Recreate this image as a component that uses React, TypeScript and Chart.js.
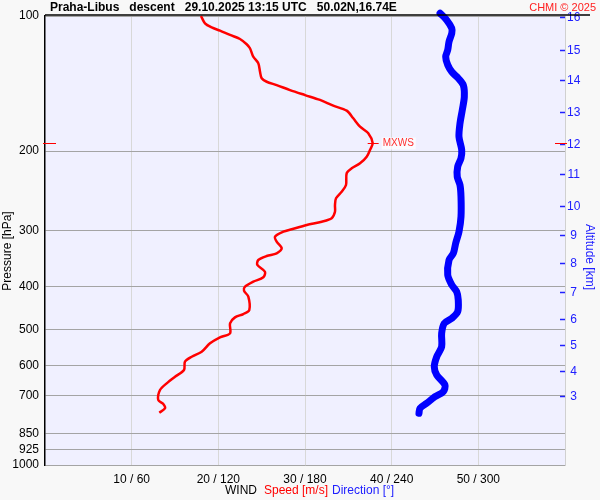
import React, { useEffect, useRef } from "react";
import { Chart, registerables } from "chart.js";

Chart.register(...registerables);

const FONT = "'Liberation Sans', Arial, sans-serif";

const pressureTicks = [100, 200, 300, 400, 500, 600, 700, 850, 925, 1000];
const speedTicks = [10, 20, 30, 40, 50];
const altitudeKm = [16, 15, 14, 13, 12, 11, 10, 9, 8, 7, 6, 5, 4, 3];
const altitudePressure = [101, 119.2, 139.1, 164.2, 193.5, 226, 265.9, 309, 356.7, 412.5, 473.8, 542.5, 618.6, 703];

const speedPressure = [
  100, 103.8, 106.0, 107.8, 110.2, 112.5, 115.6, 118.0, 123.2, 127.4, 133.1, 137.6, 140.1, 142.5, 146.2,
  150.0, 153.8, 158.4, 162.5, 169.0, 176.4, 182.5, 192.0, 198.8, 205.8, 212.9, 218.4, 224.0, 237.9, 246.2,
  254.7, 263.6, 272.9, 282.1, 287.2, 292.1, 298.6, 302.3, 310.1, 318.2, 329.2, 337.7, 342.4, 349.5, 358.5,
  371.1, 381.9, 390.6, 400.7, 409.0, 421.8, 451.7, 461.1, 469.0, 483.6, 509.1, 519.6, 535.8, 559.4, 573.9,
  588.8, 614.4, 635.9, 657.8, 680.8, 716.6, 731.4, 747.7, 764.8,
];
const speedValues = [
  18.0, 18.46, 19.23, 20.19, 21.35, 22.5, 23.27, 23.65, 24.03, 24.61, 24.81, 25.0, 25.58, 26.73, 28.27,
  30.0, 31.73, 33.26, 34.81, 35.57, 36.35, 37.3, 37.81, 37.5, 37.12, 36.35, 35.39, 34.81, 34.73, 34.23,
  33.58, 33.46, 33.46, 33.08, 31.93, 30.2, 28.46, 27.5, 26.54, 26.73, 27.31, 26.73, 25.58, 24.61, 24.5,
  25.38, 25.19, 24.03, 23.08, 22.96, 23.46, 23.57, 22.88, 21.92, 21.35, 21.35, 20.19, 19.04, 18.08, 16.93,
  16.15, 16.04, 15.0, 14.04, 13.27, 13.07, 13.65, 13.85, 13.19,
];

const dirPressure = [
  98.6, 102.1, 106.5, 109.3, 114.1, 119.1, 123.2, 128.5, 133.1, 137.6, 142.5, 151.3, 161.9, 173.4, 185.8,
  198.8, 207.4, 216.6, 228.0, 237.9, 252.6, 279.9, 302.3, 320.8, 337.7, 349.5, 377.4, 397.2, 411.2, 429.0,
  455.6, 471.4, 483.6, 509.1, 545.1, 573.9, 604.0, 630.2, 663.5, 686.8, 704.6, 728.8, 747.7, 767.2,
];
const dirValues = [
  273.5, 278.1, 281.6, 281.6, 279.7, 278.8, 277.4, 278.8, 281.6, 286.1, 289.6, 290.3, 288.9, 287.3, 286.6,
  288.5, 288.0, 285.7, 285.4, 287.3, 288.0, 288.0, 286.6, 284.3, 282.7, 279.7, 278.8, 281.6, 285.0, 286.1,
  285.7, 281.6, 276.4, 274.6, 274.6, 271.2, 269.5, 271.2, 276.9, 275.7, 270.0, 264.2, 259.6, 258.9,
];

const decorPlugin = {
  id: "decor",
  beforeDraw(chart: any) {
    const { ctx, chartArea } = chart;
    ctx.save();
    ctx.fillStyle = "#f8f8f8";
    ctx.fillRect(0, 0, chart.width, chart.height);
    ctx.fillStyle = "#f0f0ff";
    ctx.fillRect(chartArea.left, chartArea.top, chartArea.right - chartArea.left, chartArea.bottom - chartArea.top);
    ctx.restore();
  },
  afterDraw(chart: any) {
    const { ctx, chartArea, scales } = chart;
    ctx.save();
    // top line
    ctx.strokeStyle = "#000";
    ctx.lineWidth = 1.5;
    ctx.beginPath();
    ctx.moveTo(chartArea.left, 15);
    ctx.lineTo(590, 15);
    ctx.stroke();

    // titles
    ctx.textBaseline = "middle";
    ctx.textAlign = "left";
    ctx.fillStyle = "#000";
    ctx.font = `bold 12px ${FONT}`;
    ctx.fillText("Praha-Libus   descent   29.10.2025 13:15 UTC   50.02N,16.74E", 50, 8);
    ctx.font = `11px ${FONT}`;
    ctx.fillStyle = "#ff2020";
    ctx.textAlign = "right";
    ctx.fillText("CHMI \u00A9 2025", 596, 8);

    // axis titles
    ctx.font = `12px ${FONT}`;
    ctx.textAlign = "center";
    ctx.fillStyle = "#000";
    ctx.save();
    ctx.translate(8, 251);
    ctx.rotate(-Math.PI / 2);
    ctx.fillText("Pressure [hPa]", 0, 0);
    ctx.restore();
    ctx.save();
    ctx.fillStyle = "#2020ff";
    ctx.translate(589, 257);
    ctx.rotate(Math.PI / 2);
    ctx.fillText("Altitude [km]", 0, 0);
    ctx.restore();

    ctx.textAlign = "left";
    ctx.fillStyle = "#000";
    ctx.fillText("WIND", 225, 491);
    ctx.fillStyle = "#ff0000";
    ctx.fillText("Speed [m/s]", 264, 491);
    ctx.fillStyle = "#2020ff";
    ctx.fillText("Direction [\u00B0]", 332, 491);

    // MXWS marker
    let mi = 0;
    speedValues.forEach((v, i) => {
      if (v > speedValues[mi]) mi = i;
    });
    const my = Math.round(scales.y.getPixelForValue(speedPressure[mi])) + 0.5;
    const mx = scales.x.getPixelForValue(speedValues[mi]);
    ctx.strokeStyle = "#ff0000";
    ctx.lineWidth = 1;
    ctx.beginPath();
    ctx.moveTo(mx - 5, my);
    ctx.lineTo(mx + 6, my);
    ctx.moveTo(43, my);
    ctx.lineTo(56, my);
    ctx.moveTo(555, my);
    ctx.lineTo(567, my);
    ctx.stroke();
    ctx.font = `10px ${FONT}`;
    const tw = ctx.measureText("MXWS").width;
    ctx.fillStyle = "rgba(255,255,255,0.7)";
    ctx.fillRect(mx + 9, my - 6, tw + 3, 12);
    ctx.fillStyle = "#ff3030";
    ctx.fillText("MXWS", mx + 10, my);
    ctx.restore();
  },
};

export default function App() {
  const ref = useRef<HTMLCanvasElement | null>(null);
  useEffect(() => {
    if (!ref.current) return;
    const chart = new Chart(ref.current, {
      type: "scatter",
      data: {
        datasets: [
          {
            label: "Direction",
            data: dirPressure.map((p, i) => ({ x: dirValues[i], y: p })),
            xAxisID: "x2",
            yAxisID: "y",
            showLine: true,
            borderColor: "#0000ff",
            borderWidth: 7,
            borderCapStyle: "round",
            borderJoinStyle: "round",
            pointRadius: 0,
            tension: 0.3,
            clip: false,
          } as any,
          {
            label: "Speed",
            data: speedPressure.map((p, i) => ({ x: speedValues[i], y: p })),
            xAxisID: "x",
            yAxisID: "y",
            showLine: true,
            borderColor: "#ff0000",
            borderWidth: 2.5,
            borderJoinStyle: "round",
            pointRadius: 0,
            tension: 0.3,
            clip: false,
          } as any,
        ],
      },
      options: {
        animation: false,
        responsive: false,
        devicePixelRatio: 1,
        layout: { padding: { top: 16, left: 0, right: 0, bottom: 0 } },
        plugins: { legend: { display: false }, tooltip: { enabled: false }, title: { display: false } },
        scales: {
          x: {
            type: "linear",
            position: "bottom",
            min: 0,
            max: 60,
            afterBuildTicks: (s: any) => {
              s.ticks = speedTicks.map((v) => ({ value: v }));
            },
            afterFit: (s: any) => {
              s.height = 35;
            },
            grid: { color: "#d8d8d8", drawTicks: false },
            border: { display: false },
            ticks: {
              callback: (v: any) => `${v} / ${v * 6}`,
              font: { family: FONT, size: 12 },
              color: "#000",
              padding: 7,
              autoSkip: false,
              maxRotation: 0,
            },
          },
          x2: { type: "linear", min: 0, max: 360, display: false },
          y: {
            type: "logarithmic",
            position: "left",
            min: 100,
            max: 1000,
            reverse: true,
            afterBuildTicks: (s: any) => {
              s.ticks = pressureTicks.map((v) => ({ value: v }));
            },
            afterFit: (s: any) => {
              s.width = 45;
            },
            grid: { color: "#a4a4a4", drawTicks: false },
            border: { color: "#000", width: 1.5 },
            ticks: {
              callback: (v: any) => String(v),
              font: { family: FONT, size: 12 },
              color: "#000",
              padding: 6,
              autoSkip: false,
            },
          },
          y2: {
            type: "logarithmic",
            position: "right",
            min: 100,
            max: 1000,
            reverse: true,
            afterBuildTicks: (s: any) => {
              s.ticks = altitudePressure.map((v) => ({ value: v }));
            },
            afterFit: (s: any) => {
              s.width = 35;
            },
            grid: { drawOnChartArea: false, drawTicks: true, tickLength: -5, tickColor: "#2020ff", tickWidth: 1.5 },
            border: { color: "#d0d0d0", width: 1 },
            ticks: {
              callback: (_v: any, i: number) => String(altitudeKm[i]),
              font: { family: FONT, size: 12 },
              color: "#2020ff",
              crossAlign: "center",
              padding: 7,
              autoSkip: false,
            },
          },
        },
      } as any,
      plugins: [decorPlugin],
    });
    return () => chart.destroy();
  }, []);

  return (
    <div style={{ position: "absolute", left: 0, top: 0, width: 600, height: 500 }}>
      <canvas ref={ref} width={600} height={500} />
    </div>
  );
}
